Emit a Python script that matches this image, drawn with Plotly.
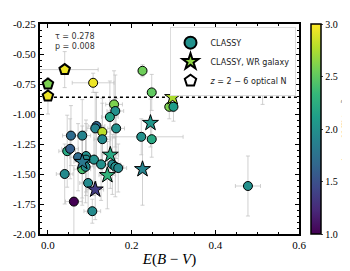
import plotly.graph_objects as go

# CLASSY galaxies (circles)
classy_x = [0.108, 0.226, 0.248, 0.158, 0.161, 0.148, 0.163, 0.116, 0.113, 0.130,
            0.130, 0.055, 0.082, 0.290, 0.300, 0.223, 0.248, 0.046, 0.053, 0.072,
            0.091, 0.091, 0.082, 0.090, 0.110, 0.127, 0.154, 0.161, 0.168, 0.040,
            0.096, 0.062, 0.106, 0.478]
classy_y = [-0.74, -0.64, -0.82, -0.92, -0.975, -1.025, -1.12, -1.10, -1.12, -1.15,
            -1.21, -1.18, -1.18, -0.94, -0.94, -1.19, -1.21, -1.31, -1.29, -1.36,
            -1.35, -1.38, -1.46, -1.44, -1.38, -1.42, -1.42, -1.44, -1.45, -1.50,
            -1.575, -1.73, -1.81, -1.60]
classy_ne = [2.95, 2.55, 2.5, 2.6, 2.0, 2.15, 2.0, 1.65, 1.9, 2.8,
             1.95, 1.7, 1.9, 2.6, 2.1, 2.0, 2.2, 2.2, 1.6, 1.7,
             2.0, 1.95, 2.4, 1.95, 2.0, 2.0, 1.95, 2.0, 1.95, 1.95,
             1.95, 1.0, 1.95, 2.0]
classy_xerr = [0.05, 0.01, 0.01, 0.02, 0.02, 0.02, 0.02, 0.02, 0.02, 0.02,
               0.02, 0.02, 0.02, 0.01, 0.01, 0.10, 0.01, 0.02, 0.02, 0.02,
               0.02, 0.02, 0.02, 0.02, 0.02, 0.02, 0.02, 0.02, 0.02, 0.02,
               0.02, 0.02, 0.02, 0.03]
classy_yerr = [0.08, 0.05, 0.15, 0.28, 0.30, 0.30, 0.25, 0.28, 0.30, 0.28,
               0.30, 0.25, 0.30, 0.10, 0.12, 0.15, 0.15, 0.30, 0.25, 0.28,
               0.30, 0.30, 0.30, 0.30, 0.30, 0.30, 0.25, 0.25, 0.20, 0.25,
               0.25, 0.30, 0.10, 0.25]

# CLASSY, WR galaxies (stars)
wr_x = [0.298, 0.245, 0.226, 0.082, 0.149, 0.142, 0.113]
wr_y = [-0.86, -1.075, -1.46, -1.40, -1.34, -1.51, -1.63]
wr_ne = [2.75, 2.05, 1.9, 1.8, 2.2, 2.3, 1.35]
wr_xerr = [0.01, 0.01, 0.01, 0.02, 0.02, 0.02, 0.02]
wr_yerr = [0.12, 0.20, 0.30, 0.30, 0.28, 0.28, 0.25]

# z = 2-6 optical N (pentagons)
hz_x = [0.0, 0.0, 0.04, 0.39, 0.513]
hz_y = [-0.75, -0.85, -0.63, -0.675, -0.77]
hz_ne = [2.6, 2.95, 2.95, 2.25, 2.2]
hz_xerr = [0.0, 0.0, 0.08, 0.03, 0.0]
hz_yerr = [0.0, 0.15, 0.15, 0.08, 0.15]

threshold_y = -0.86
tau_text = "τ = 0.278"
p_text = "p = 0.008"

serif = "Liberation Serif, DejaVu Serif, serif"
sans = "DejaVu Sans, sans-serif"
err_col = "rgba(190,190,190,0.7)"

fig = go.Figure()

def add_errors(xs, ys, xe, ye):
    fig.add_trace(go.Scatter(
        x=xs, y=ys, mode="markers", showlegend=False, hoverinfo="skip",
        marker=dict(size=1, color="rgba(0,0,0,0)"),
        error_x=dict(type="data", array=xe, color=err_col, thickness=1, width=2),
        error_y=dict(type="data", array=ye, color=err_col, thickness=1, width=2),
    ))

add_errors(classy_x, classy_y, classy_xerr, classy_yerr)
add_errors(wr_x, wr_y, wr_xerr, wr_yerr)
add_errors(hz_x, hz_y, hz_xerr, hz_yerr)

# dotted threshold line
fig.add_trace(go.Scatter(x=[0.0, 0.6], y=[threshold_y, threshold_y], mode="lines",
                         line=dict(color="black", width=1.5, dash="dot"),
                         showlegend=False, hoverinfo="skip"))

cb = dict(
    thickness=10, len=1.0, lenmode="fraction", y=0.5, yanchor="middle",
    x=1.045, xanchor="left", xpad=0, ypad=0, outlinewidth=1.5, outlinecolor="black",
    tickvals=[1.0, 1.5, 2.0, 2.5, 3.0], ticktext=["1.0", "1.5", "2.0", "2.5", "3.0"],
    ticks="outside", ticklen=2, tickfont=dict(family=serif, size=10, color="black"),
    title=dict(text="log <i>n</i><sub>e</sub> ([S II] /cm<sup>−3</sup>)", side="right",
               font=dict(family=serif, size=8, color="black")),
)

fig.add_trace(go.Scatter(
    x=classy_x, y=classy_y, mode="markers", showlegend=False,
    marker=dict(symbol="circle", size=9, color=classy_ne, colorscale="Viridis",
                cmin=1, cmax=3, line=dict(color="black", width=1), colorbar=cb),
))
fig.add_trace(go.Scatter(
    x=wr_x, y=wr_y, mode="markers", showlegend=False,
    marker=dict(symbol="star", size=12, color=wr_ne, colorscale="Viridis",
                cmin=1, cmax=3, line=dict(color="black", width=1)),
))
fig.add_trace(go.Scatter(
    x=hz_x, y=hz_y, mode="markers", showlegend=False,
    marker=dict(symbol="pentagon", size=11, color=hz_ne, colorscale="Viridis",
                cmin=1, cmax=3, line=dict(color="black", width=2)),
))

# legend entries
fig.add_trace(go.Scatter(x=[None], y=[None], mode="markers", name="CLASSY",
                         marker=dict(symbol="circle", size=9, color="#21918c",
                                     line=dict(color="black", width=1))))
fig.add_trace(go.Scatter(x=[None], y=[None], mode="markers", name="CLASSY, WR galaxy",
                         marker=dict(symbol="star", size=12, color="#8fd744",
                                     line=dict(color="black", width=1))))
fig.add_trace(go.Scatter(x=[None], y=[None], mode="markers",
                         name="<i>z</i> = 2 − 6 optical N",
                         marker=dict(symbol="pentagon", size=10, color="white",
                                     line=dict(color="black", width=2))))

axis_common = dict(
    showgrid=False, zeroline=False, showline=True, linecolor="black", linewidth=2,
    mirror="allticks", ticks="inside", ticklen=4, tickwidth=1, tickcolor="black",
    tickfont=dict(family=serif, size=11, color="black"), automargin=False,
    minor=dict(ticks="inside", ticklen=2, tickcolor="black", dtick=0.05),
)

fig.update_layout(
    width=350, height=271,
    margin=dict(l=32, r=59, t=16, b=45, autoexpand=False),
    plot_bgcolor="white", paper_bgcolor="white",
    xaxis=dict(range=[-0.019, 0.6], tickvals=[0.0, 0.2, 0.4, 0.6],
               ticktext=["0.0", "0.2", "0.4", "0.6"],
               title=dict(text="<i>E</i>(<i>B</i> − <i>V</i>)", standoff=3,
                          font=dict(family=serif, size=15, color="black")),
               **axis_common),
    yaxis=dict(range=[-2.0, -0.25], tickvals=[-2.0, -1.75, -1.5, -1.25, -1.0, -0.75, -0.5, -0.25],
               ticktext=["-2.00", "-1.75", "-1.50", "-1.25", "-1.00", "-0.75", "-0.50", "-0.25"],
               **axis_common),
    legend=dict(x=0.50, y=0.985, xanchor="left", yanchor="top",
                bgcolor="white", bordercolor="#dddddd", borderwidth=1,
                font=dict(family=sans, size=8, color="#222222"),
                itemsizing="constant", tracegroupgap=0, itemwidth=30),
    annotations=[
        dict(text=tau_text + "<br>" + p_text, x=0.05, y=0.97, xref="paper", yref="paper",
             xanchor="left", yanchor="top", showarrow=False, align="left",
             font=dict(family=sans, size=8, color="#333333")),
    ],
)

fig.write_html("out.html")
